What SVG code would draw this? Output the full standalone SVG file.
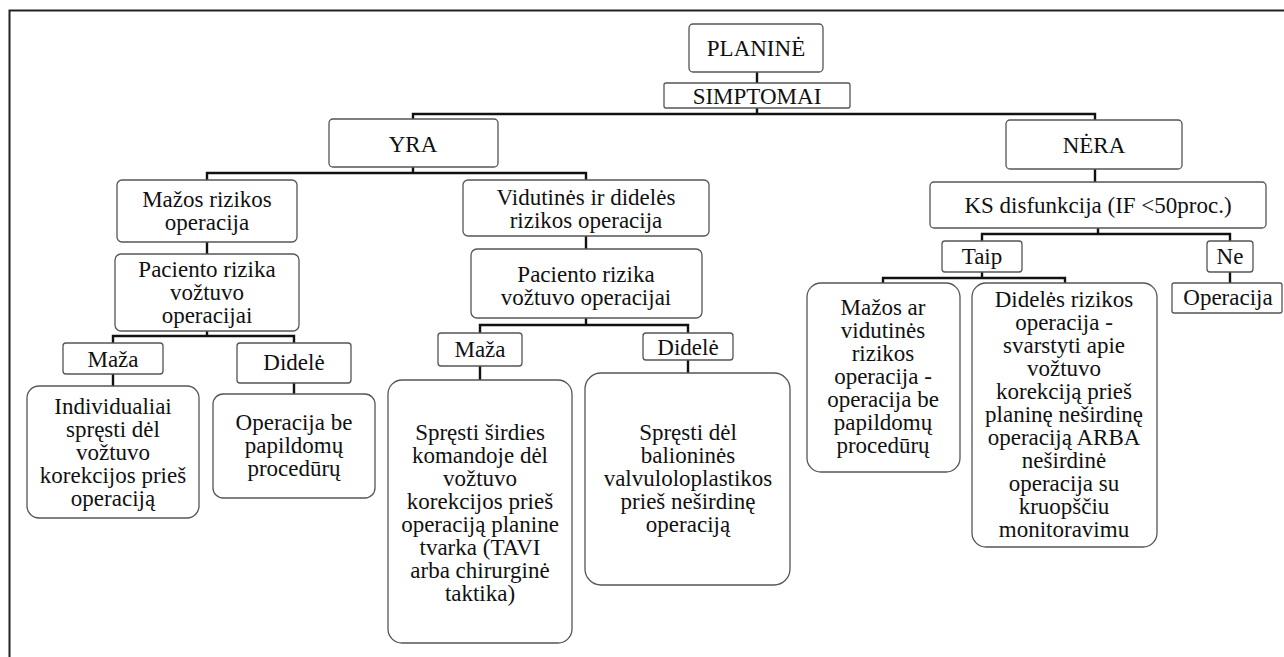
<svg xmlns="http://www.w3.org/2000/svg" width="1284" height="657" viewBox="0 0 1284 657">
<style>
.b{fill:#fff;stroke:#555;stroke-width:1.3}
.t{font-family:'Liberation Serif','Times New Roman',Tinos,'Noto Serif','DejaVu Serif',serif;font-size:23px;fill:#111;text-anchor:middle}
.c{fill:none;stroke:#111;stroke-width:2.4;stroke-linecap:square}
.f{fill:none;stroke:#222;stroke-width:2}
</style>
<rect width="1284" height="657" fill="#fff"/>
<path class="f" d="M1284 10.5 H9.5 V657"/>
<g id="connectors">
<path class="c" d="M757 72 V83 M757 108 V114 M413 114 H1095 M413 114 V119 M1095 114 V120"/>
<path class="c" d="M413 167 V173 M207 173 H586 M207 173 V180 M586 173 V180"/>
<path class="c" d="M207 242 V254 M207 331 V336 M113 336 H294 M113 336 V343 M294 336 V343 M113 374 V386 M294 383 V394"/>
<path class="c" d="M586 236 V249 M586 318 V325 M480 325 H688 M480 325 V333 M688 325 V333 M480 366 V380 M688 360 V373"/>
<path class="c" d="M1095 169 V182 M1098 228 V234 M982 234 H1230 M982 234 V241 M1230 234 V241 M982 272 V278 M883 278 H1065 M883 278 V283 M1065 278 V283 M1230 272 V283"/>
</g>
<g font-family="Liberation Serif, Times New Roman, serif">
<g id="planine"><rect class="b" x="689" y="24" width="134" height="48" rx="4"/><text class="t" x="756" y="56">PLANINĖ</text></g>
<g id="simptomai"><rect class="b" x="664" y="83" width="186" height="25" rx="2"/><text class="t" x="757" y="104">SIMPTOMAI</text></g>
<g id="yra"><rect class="b" x="329" y="119" width="169" height="48" rx="4"/><text class="t" x="413" y="152">YRA</text></g>
<g id="nera"><rect class="b" x="1006" y="120" width="176" height="49" rx="4"/><text class="t" x="1094" y="153">NĖRA</text></g>
<g id="mazos-rizikos"><rect class="b" x="117" y="180" width="180" height="62" rx="5"/><text class="t" x="207" y="207">Mažos rizikos<tspan x="207" dy="23">operacija</tspan></text></g>
<g id="paciento-1"><rect class="b" x="115" y="254" width="184" height="77" rx="6"/><text class="t" x="207" y="277">Paciento rizika<tspan x="207" dy="23">vožtuvo</tspan><tspan x="207" dy="23">operacijai</tspan></text></g>
<g id="maza-1"><rect class="b" x="63" y="343" width="100" height="31" rx="3"/><text class="t" x="113" y="367">Maža</text></g>
<g id="didele-1"><rect class="b" x="237" y="343" width="114" height="40" rx="3"/><text class="t" x="294" y="370">Didelė</text></g>
<g id="individualiai"><rect class="b" x="27" y="386" width="172" height="132" rx="12"/><text class="t" x="113" y="414">Individualiai<tspan x="113" dy="23">spręsti dėl</tspan><tspan x="113" dy="23">vožtuvo</tspan><tspan x="113" dy="23">korekcijos prieš</tspan><tspan x="113" dy="23">operaciją</tspan></text></g>
<g id="operacija-be"><rect class="b" x="213" y="394" width="162" height="104" rx="10"/><text class="t" x="294" y="430">Operacija be<tspan x="294" dy="23">papildomų</tspan><tspan x="294" dy="23">procedūrų</tspan></text></g>
<g id="vidutines"><rect class="b" x="463" y="180" width="246" height="56" rx="5"/><text class="t" x="586" y="205">Vidutinės ir didelės<tspan x="586" dy="23">rizikos operacija</tspan></text></g>
<g id="paciento-2"><rect class="b" x="471" y="249" width="231" height="69" rx="6"/><text class="t" x="586" y="282">Paciento rizika<tspan x="586" dy="23">vožtuvo operacijai</tspan></text></g>
<g id="maza-2"><rect class="b" x="438" y="333" width="84" height="33" rx="3"/><text class="t" x="480" y="357">Maža</text></g>
<g id="didele-2"><rect class="b" x="643" y="333" width="90" height="27" rx="3"/><text class="t" x="688" y="355">Didelė</text></g>
<g id="spresti-sirdies"><rect class="b" x="388" y="380" width="184" height="263" rx="14"/><text class="t" x="480" y="440">Spręsti širdies<tspan x="480" dy="23">komandoje dėl</tspan><tspan x="480" dy="23">vožtuvo</tspan><tspan x="480" dy="23">korekcijos prieš</tspan><tspan x="480" dy="23">operaciją planine</tspan><tspan x="480" dy="23">tvarka (TAVI</tspan><tspan x="480" dy="23">arba chirurginė</tspan><tspan x="480" dy="23">taktika)</tspan></text></g>
<g id="spresti-del"><rect class="b" x="585" y="373" width="205" height="212" rx="16"/><text class="t" x="688" y="440">Spręsti dėl<tspan x="688" dy="23">balioninės</tspan><tspan x="688" dy="23">valvuloloplastikos</tspan><tspan x="688" dy="23">prieš neširdinę</tspan><tspan x="688" dy="23">operaciją</tspan></text></g>
<g id="ks"><rect class="b" x="930" y="182" width="336" height="46" rx="4"/><text class="t" x="1098" y="213">KS disfunkcija (IF &lt;50proc.)</text></g>
<g id="taip"><rect class="b" x="942" y="241" width="80" height="31" rx="3"/><text class="t" x="982" y="264">Taip</text></g>
<g id="ne"><rect class="b" x="1207" y="241" width="46" height="31" rx="3"/><text class="t" x="1230" y="264">Ne</text></g>
<g id="operacija"><rect class="b" x="1172" y="283" width="110" height="30" rx="2"/><text class="t" x="1228" y="305">Operacija</text></g>
<g id="mazos-ar"><rect class="b" x="807" y="283" width="153" height="189" rx="14"/><text class="t" x="883" y="315">Mažos ar<tspan x="883" dy="23">vidutinės</tspan><tspan x="883" dy="23">rizikos</tspan><tspan x="883" dy="23">operacija -</tspan><tspan x="883" dy="23">operacija be</tspan><tspan x="883" dy="23">papildomų</tspan><tspan x="883" dy="23">procedūrų</tspan></text></g>
<g id="dideles-rizikos"><rect class="b" x="972" y="283" width="185" height="264" rx="14"/><text class="t" x="1064" y="307">Didelės rizikos<tspan x="1064" dy="23">operacija -</tspan><tspan x="1064" dy="23">svarstyti apie</tspan><tspan x="1064" dy="23">vožtuvo</tspan><tspan x="1064" dy="23">korekciją prieš</tspan><tspan x="1064" dy="23">planinę neširdinę</tspan><tspan x="1064" dy="23">operaciją ARBA</tspan><tspan x="1064" dy="23">neširdinė</tspan><tspan x="1064" dy="23">operacija su</tspan><tspan x="1064" dy="23">kruopščiu</tspan><tspan x="1064" dy="23">monitoravimu</tspan></text></g>
</g>
</svg>
